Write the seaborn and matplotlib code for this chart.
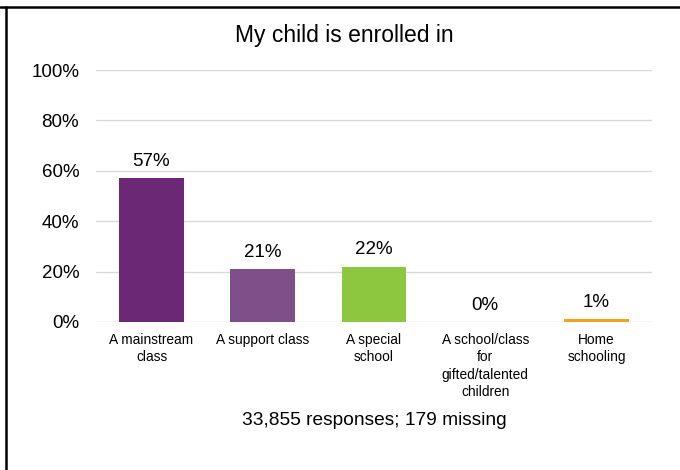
import matplotlib
matplotlib.use("Agg")
import matplotlib.pyplot as plt
import seaborn as sns
import pandas as pd
from matplotlib.lines import Line2D

# Data
categories = [
    "A mainstream\nclass",
    "A support class",
    "A special\nschool",
    "A school/class\nfor\ngifted/talented\nchildren",
    "Home\nschooling",
]
percent = [57, 21, 22, 0, 1]
bar_colors = ["#6B2874", "#7F4F8A", "#8DC63F", "#B0B0B0", "#F7A11A"]
y_ticks = [0, 20, 40, 60, 80, 100]
title = "My child is enrolled in"
footer = "33,855 responses; 179 missing"

df = pd.DataFrame({"category": categories, "percent": percent})

sns.set_theme(style="white")
plt.rcParams["font.family"] = ["Liberation Sans", "DejaVu Sans"]

fig = plt.figure(figsize=(6.8, 4.7), dpi=100)
ax_left, ax_width = 0.141, 0.818
ax = fig.add_axes([ax_left, 0.315, ax_width, 0.536])

sns.barplot(
    data=df, x="category", y="percent", hue="category",
    palette=bar_colors, width=0.58, saturation=1, legend=False, ax=ax,
    zorder=3, linewidth=0,
)

ax.set_ylim(0, 100)
ax.set_yticks(y_ticks)
ax.set_yticklabels([f"{t}%" for t in y_ticks], fontsize=13.5, color="#000000")
ax.yaxis.grid(True, color="#D9D9D9", linewidth=1, zorder=0)
ax.set_axisbelow(True)
ax.tick_params(axis="both", length=0)
ax.tick_params(axis="y", pad=12)
ax.tick_params(axis="x", pad=8)
for lab in ax.get_xticklabels():
    lab.set_fontsize(9.9)
    lab.set_color("#000000")
    lab.set_linespacing(1.3)
    lab.set_verticalalignment("top")
ax.set_xlabel("")
ax.set_ylabel("")
for s in ax.spines.values():
    s.set_visible(False)
ax.set_xlim(-0.5, len(categories) - 0.5)

# value labels above bars
for i, v in enumerate(percent):
    ax.annotate(f"{v:.0f}%", (i, v), xytext=(0, 6), textcoords="offset points",
                ha="center", va="bottom", fontsize=13.5, color="#000000")

fig.text(0.507, 0.925, title, ha="center", va="center", fontsize=16.5, color="#000000")
fig.text(ax_left + ax_width / 2, 0.106, footer, ha="center", va="center",
         fontsize=13.8, color="#000000")

# partial frame: top and left edges
fig.add_artist(Line2D([0, 1], [0.985, 0.985], transform=fig.transFigure,
                      color="black", linewidth=1.8))
fig.add_artist(Line2D([0.0085, 0.0085], [0, 0.985], transform=fig.transFigure,
                      color="black", linewidth=1.8))

fig.savefig("out.png", dpi=100, facecolor="white")
